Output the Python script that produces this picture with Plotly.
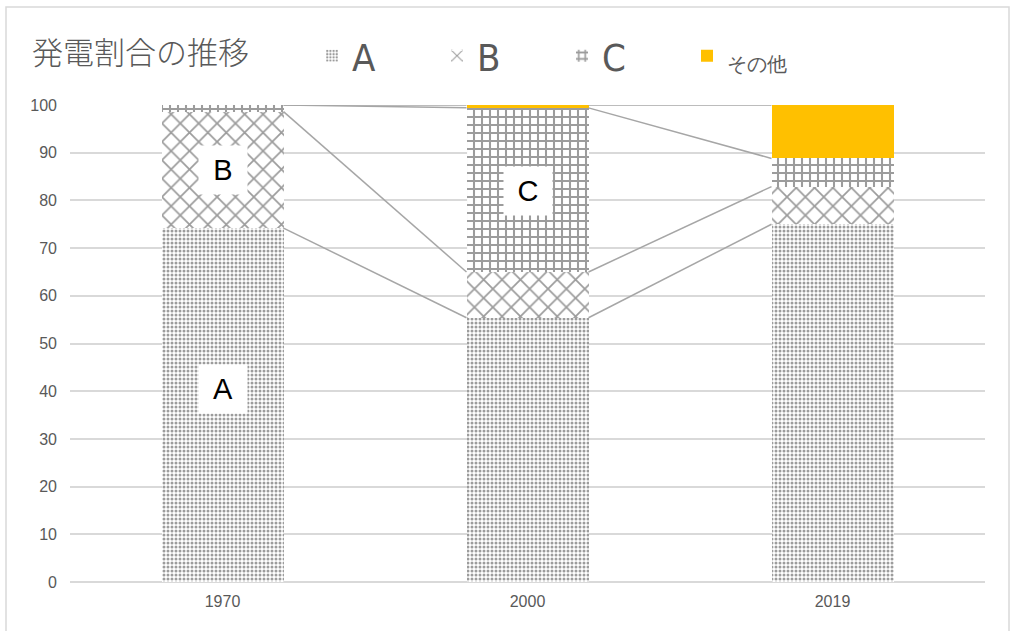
import plotly.graph_objects as go

years = ["1970", "2000", "2019"]
share_a = [74.2, 55.4, 75.0]
share_b = [24.4, 9.6, 7.9]
share_c = [1.4, 34.4, 5.9]
share_other = [0.0, 0.6, 11.2]
series_names = ["A", "B", "C", "その他"]
y_ticks = [0, 10, 20, 30, 40, 50, 60, 70, 80, 90, 100]

# in-bar labels: (series name, year index, y value)
bar_labels = [("A", 0, 40.5), ("B", 0, 86.4), ("C", 1, 81.9)]

BAR_W = 0.4
PAT = "#3a3a3a"
GRID = "#d9d9d9"
TXT = "#595959"

xs = list(range(len(years)))
fig = go.Figure()

patterns = [
    dict(shape=".", size=4, solidity=0.45, fgcolor=PAT, bgcolor="white"),
    dict(shape="x", size=13, solidity=0.25, fgcolor=PAT, bgcolor="white"),
    dict(shape="+", size=8, solidity=0.45, fgcolor=PAT, bgcolor="white"),
    None,
]
series_vals = [share_a, share_b, share_c, share_other]
legend_names = ["A", "B", "C", '<span style="font-size:20px">その他</span>']

for name, vals, pat in zip(legend_names, series_vals, patterns):
    marker = dict(line=dict(width=0))
    if pat is None:
        marker["color"] = "#FFC000"
    else:
        marker["color"] = "white"
        marker["pattern"] = pat
    fig.add_trace(go.Bar(x=xs, y=vals, name=name, width=BAR_W, marker=marker,
                         hoverinfo="skip"))

# series lines connecting cumulative tops between bars
cum = [0.0] * len(years)
for vals in series_vals:
    cum = [c + v for c, v in zip(cum, vals)]
    for i in range(len(years) - 1):
        fig.add_trace(go.Scatter(
            x=[xs[i] + BAR_W / 2, xs[i + 1] - BAR_W / 2],
            y=[cum[i], cum[i + 1]],
            mode="lines", line=dict(color="#a6a6a6", width=1.5),
            showlegend=False, hoverinfo="skip"))

for text, idx, yv in bar_labels:
    fig.add_annotation(x=xs[idx], y=yv, text=text, showarrow=False,
                       bgcolor="white", width=46, height=46,
                       font=dict(family="Liberation Sans, Arial", size=29, color="black"))

fig.add_annotation(xref="paper", yref="paper", x=(30 - 70) / 915, y=(582 - 50) / 477,
                   xanchor="left", yanchor="middle", showarrow=False,
                   text="発電割合の推移",
                   font=dict(family="Noto Sans CJK JP", size=31, color=TXT, weight=300))

# chart-area border
fig.add_shape(type="rect", xref="paper", yref="paper",
              x0=(6 - 70) / 915, x1=(1009 - 70) / 915,
              y0=(582 - 650) / 477, y1=(582 - 7) / 477,
              line=dict(color=GRID, width=1.5), layer="below")

fig.update_layout(
    width=1010, height=631,
    margin=dict(l=70, r=25, t=105, b=49),
    paper_bgcolor="white", plot_bgcolor="white",
    barmode="stack",
    showlegend=True,
    legend=dict(orientation="h", x=(312 - 70) / 915, xanchor="left",
                y=(582 - 56) / 477, yanchor="middle",
                traceorder="normal", entrywidth=80, entrywidthmode="pixels",
                font=dict(family="DejaVu Sans Condensed, DejaVu Sans", size=38, color=TXT),
                bgcolor="rgba(0,0,0,0)"),
    xaxis=dict(range=[-0.5, 2.5], tickvals=xs, ticktext=years, showgrid=False,
               showline=False, zeroline=False, ticks="",
               tickfont=dict(family="Liberation Sans Narrow, Liberation Sans", size=16, color=TXT),
               ticklabelstandoff=8),
    yaxis=dict(range=[0, 100], tickvals=y_ticks, showgrid=True, gridcolor=GRID,
               gridwidth=1.5, zeroline=True, zerolinecolor=GRID, zerolinewidth=1.5,
               showline=False, ticks="",
               tickfont=dict(family="Liberation Sans Narrow, Liberation Sans", size=16, color=TXT),
               ticklabelstandoff=12),
)

fig.write_html("out.html", config={"displayModeBar": False},
               post_script="document.body.style.margin='0';document.body.style.overflow='hidden';")
